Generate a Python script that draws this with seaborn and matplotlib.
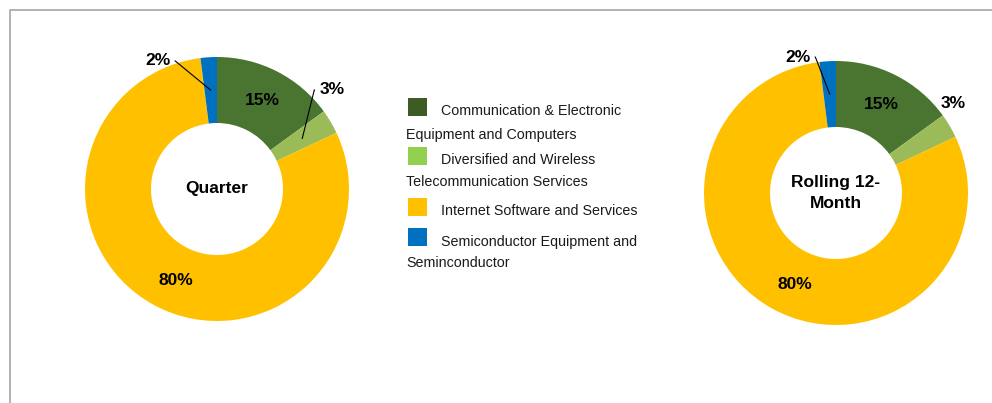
import matplotlib
matplotlib.use("Agg")
import matplotlib.pyplot as plt
import seaborn as sns
import numpy as np
from matplotlib.lines import Line2D
from matplotlib.patches import Rectangle

sns.set_theme(style="white")
plt.rcParams['font.family'] = ['Liberation Sans', 'DejaVu Sans']

categories_line1 = ["Communication & Electronic", "Diversified and Wireless",
                    "Internet Software and Services", "Semiconductor Equipment and"]
categories_line2 = ["Equipment and Computers", "Telecommunication Services",
                    "", "Seminconductor"]
quarter_values = [15, 3, 80, 2]
rolling_values = [15, 3, 80, 2]
chart_titles = ["Quarter", "Rolling 12-\nMonth"]
pie_colors = ["#4A7530", "#9BBB59", "#FFC000", "#0070C0"]
legend_colors = ["#3D5B25", "#92D050", "#FFC000", "#0070C0"]

W, H = 992, 403
fig = plt.figure(figsize=(W / 100, H / 100), dpi=100)
fig.patch.set_facecolor("white")

# frame lines
fig.add_artist(Line2D([10 / W, 10 / W, 1.0], [0.0, 1 - 10 / H, 1 - 10 / H],
                      transform=fig.transFigure, color="#A6A6A6", lw=1.2))


def make_ax(cx, cy, r=132):
    ax = fig.add_axes([(cx - r) / W, (H - cy - r) / H, 2 * r / W, 2 * r / H])
    ax.axis("off")
    return ax


def mid_xy(values, i, r=0.75):
    tot = sum(values)
    start = sum(values[:i]) / tot
    mid = start + values[i] / tot / 2
    ang = np.deg2rad(90 - mid * 360)
    return r * np.cos(ang), r * np.sin(ang)


lab_kw = dict(fontsize=12.5, fontweight="bold", color="black", ha="center", va="center")


def donut(ax, values, title, small_label_pos, leaders):
    ax.pie(values, colors=pie_colors, radius=1, startangle=90, counterclock=False,
           wedgeprops=dict(width=0.5, edgecolor="none"))
    ax.set_xlim(-1, 1)
    ax.set_ylim(-1, 1)
    ax.set_aspect("equal")
    ax.text(0, 0, title, fontsize=12.5, fontweight="bold", ha="center", va="center",
            linespacing=1.55, color="black")
    for i, v in enumerate(values):
        x, y = mid_xy(values, i)
        if i in small_label_pos:
            tx, ty = small_label_pos[i]
            if i in leaders:
                relpos, angA = leaders[i]
                ax.annotate(f"{v}%", xy=(x, y), xytext=(tx, ty), textcoords="data",
                            arrowprops=dict(arrowstyle="-", color="black", lw=0.8,
                                            shrinkA=1, shrinkB=0, relpos=relpos,
                                            connectionstyle=f"arc,angleA={angA},angleB=0,armA=5,armB=0,rad=0"),
                            annotation_clip=False, **lab_kw)
            else:
                ax.text(tx, ty, f"{v}%", **lab_kw)
        else:
            if i == 2:
                x, y = x + 0.05, y - 0.035
            ax.text(x, y, f"{v}%", **lab_kw)


ax1 = make_ax(217, 189)
donut(ax1, quarter_values, chart_titles[0],
      {1: (0.87, 0.75), 3: (-0.45, 0.97)},
      {1: ((0.0, 0.5), 180), 3: ((1.0, 0.5), 0)})

ax2 = make_ax(836, 193)
donut(ax2, rolling_values, chart_titles[1],
      {1: (0.89, 0.68), 3: (-0.29, 1.03)},
      {3: ((1.0, 0.5), 0)})

# legend
patch_y = [98, 147, 198, 228]
line1_y = [111, 160, 211, 242]
line2_y = [135, 182, None, 263]
for i in range(len(categories_line1)):
    fig.add_artist(Rectangle((408 / W, 1 - (patch_y[i] + 18) / H), 19 / W, 18 / H,
                             transform=fig.transFigure, facecolor=legend_colors[i],
                             edgecolor="none"))
    fig.text(441 / W, 1 - line1_y[i] / H, categories_line1[i], fontsize=10.3,
             ha="left", va="center", color="#1a1a1a")
    if categories_line2[i]:
        fig.text(406 / W, 1 - line2_y[i] / H, categories_line2[i], fontsize=10.3,
                 ha="left", va="center", color="#1a1a1a")

fig.savefig("out.png", dpi=100, facecolor="white")
